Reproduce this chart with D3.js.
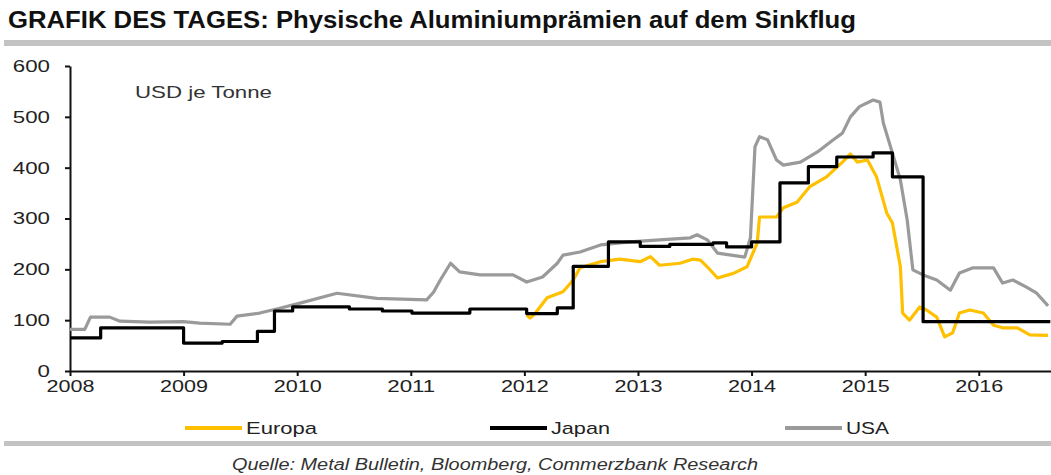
<!DOCTYPE html>
<html>
<head>
<meta charset="utf-8">
<script src="https://cdn.jsdelivr.net/npm/d3@7"></script>
<style>
  body { margin: 0; background: #fff; }
  svg { display: block; font-family: "Liberation Sans", Arial, sans-serif; }
  .axis path, .axis line { stroke: #111; }
  .axis text { font-size: 17px; fill: #222; }
</style>
</head>
<body>
<svg id="chart" width="1051" height="475"></svg>
<script>
// values, x in decimal years
var yearTicks = [2008, 2009, 2010, 2011, 2012, 2013, 2014, 2015, 2016];
var valueTicks = [0, 100, 200, 300, 400, 500, 600];

var japanYears = [2008.0, 2008.27, 2009.0, 2009.34, 2009.65, 2009.8, 2009.96, 2010.46, 2010.75, 2011.01, 2011.52,
  2012.02, 2012.29, 2012.43, 2012.74, 2013.02, 2013.28, 2013.66, 2013.78, 2014.0, 2014.25, 2014.5, 2014.75,
  2015.07, 2015.24, 2015.51, 2016.63];
var japanVals = [65, 85, 55, 58, 78, 118, 126, 122, 118, 114, 122,
  113, 124, 206, 254, 245, 249, 252, 244, 254, 370, 402, 421,
  429, 382, 97, 97];

var europaYears = [2012.02, 2012.05, 2012.09, 2012.2, 2012.34, 2012.43, 2012.49, 2012.67, 2012.84, 2013.02, 2013.11,
  2013.19, 2013.37, 2013.48, 2013.55, 2013.61, 2013.7, 2013.84, 2013.96, 2014.05, 2014.07, 2014.22, 2014.28,
  2014.4, 2014.51, 2014.66, 2014.8, 2014.87, 2014.93, 2015.02, 2015.1, 2015.19, 2015.24, 2015.31, 2015.33,
  2015.39, 2015.48, 2015.54, 2015.63, 2015.7, 2015.77, 2015.83, 2015.92, 2016.04, 2016.13, 2016.21, 2016.34,
  2016.45, 2016.61];
var europaVals = [110, 104, 112, 144, 156, 179, 203, 215, 220, 215, 225,
  208, 212, 220, 218, 205, 183, 192, 205, 252, 303, 303, 321,
  332, 362, 382, 411, 427, 411, 415, 382, 311, 291, 205, 114,
  100, 126, 120, 106, 67, 75, 114, 120, 114, 90, 85, 85,
  71, 70];

var usaYears = [2008.0, 2008.13, 2008.18, 2008.35, 2008.44, 2008.7, 2009.0, 2009.14, 2009.41, 2009.47, 2009.67,
  2009.82, 2010.0, 2010.35, 2010.7, 2011.14, 2011.2, 2011.26, 2011.35, 2011.43, 2011.61, 2011.9, 2012.02,
  2012.16, 2012.29, 2012.34, 2012.49, 2012.67, 2012.93, 2013.19, 2013.46, 2013.52, 2013.61, 2013.7, 2013.94,
  2013.99, 2014.03, 2014.07, 2014.14, 2014.22, 2014.28, 2014.43, 2014.58, 2014.72, 2014.8, 2014.87, 2014.95,
  2015.07, 2015.13, 2015.16, 2015.24, 2015.31, 2015.37, 2015.42, 2015.51, 2015.63, 2015.75, 2015.83, 2015.95,
  2016.13, 2016.21, 2016.3, 2016.42, 2016.51, 2016.61];
var usaVals = [82, 82, 106, 106, 98, 96, 97, 94, 92, 108, 114,
  122, 132, 153, 143, 140, 155, 179, 212, 195, 189, 189, 175,
  185, 212, 228, 234, 248, 254, 258, 262, 268, 258, 232, 224,
  262, 441, 461, 455, 415, 405, 411, 431, 455, 468, 500, 520,
  533, 529, 488, 429, 376, 297, 199, 189, 179, 159, 193, 203,
  203, 173, 179, 165, 153, 128];

var series = [
  { name: "Europa", years: europaYears, vals: europaVals, color: "#ffc000", curve: d3.curveLinear, w: 71 },
  { name: "Japan", years: japanYears, vals: japanVals, color: "#000000", curve: d3.curveStepAfter, w: 59 },
  { name: "USA", years: usaYears, vals: usaVals, color: "#9a9a9a", curve: d3.curveLinear, w: 43 }
];

var svg = d3.select("#chart");

// title + grey rules
svg.append("text")
  .attr("x", 8).attr("y", 28)
  .attr("font-size", 23).attr("font-weight", "bold").attr("fill", "#111")
  .attr("textLength", 848).attr("lengthAdjust", "spacingAndGlyphs")
  .text("GRAFIK DES TAGES: Physische Aluminiumprämien auf dem Sinkflug");
svg.append("rect").attr("x", 4).attr("y", 40).attr("width", 1047).attr("height", 6).attr("fill", "#c3c3c3");
svg.append("rect").attr("x", 4).attr("y", 441).attr("width", 1047).attr("height", 5).attr("fill", "#c3c3c3");

var x = d3.scaleLinear().domain([2008, 2016.636]).range([70, 1051]);
var y = d3.scaleLinear().domain([0, 600]).range([371, 66]);

var gx = svg.append("g").attr("class", "axis")
  .attr("transform", "translate(0,371)")
  .call(d3.axisBottom(x).tickValues(yearTicks).tickFormat(d3.format("d")).tickSize(5).tickSizeOuter(0).tickPadding(4));
gx.select(".domain").attr("stroke-width", 2);
gx.selectAll(".tick line").attr("stroke-width", 2);
gx.selectAll(".tick text").attr("textLength", 48).attr("lengthAdjust", "spacingAndGlyphs");

var gy = svg.append("g").attr("class", "axis")
  .attr("transform", "translate(70,0)")
  .call(d3.axisLeft(y).tickValues(valueTicks).tickSize(5).tickSizeOuter(0).tickPadding(15));
gy.select(".domain").attr("stroke-width", 2);
gy.selectAll(".tick line").attr("stroke-width", 2);
gy.selectAll(".tick text")
  .attr("textLength", function(d) { return String(d).length * 12.4; })
  .attr("lengthAdjust", "spacingAndGlyphs");

svg.append("text")
  .attr("x", 135).attr("y", 98)
  .attr("font-size", 17).attr("fill", "#333")
  .attr("textLength", 137).attr("lengthAdjust", "spacingAndGlyphs")
  .text("USD je Tonne");

// USA drawn first so it sits underneath, as in the reference
[series[2], series[0], series[1]].forEach(function(s) {
  var line = d3.line()
    .x(function(d, i) { return x(s.years[i]); })
    .y(function(d) { return y(d); })
    .curve(s.curve);
  svg.append("path")
    .datum(s.vals)
    .attr("fill", "none")
    .attr("stroke", s.color)
    .attr("stroke-width", 3.2)
    .attr("stroke-linejoin", "round")
    .attr("d", line);
});

// legend
var legendX = [185, 490, 785];
series.forEach(function(s, i) {
  var g = svg.append("g").attr("transform", "translate(" + legendX[i] + ",428)");
  g.append("line").attr("x1", 0).attr("x2", 57).attr("y1", 0).attr("y2", 0)
    .attr("stroke", s.color).attr("stroke-width", 4);
  g.append("text").attr("x", 61).attr("y", 6).attr("font-size", 17).attr("fill", "#222")
    .attr("textLength", s.w).attr("lengthAdjust", "spacingAndGlyphs")
    .text(s.name);
});

svg.append("text")
  .attr("x", 232).attr("y", 470)
  .attr("font-size", 16).attr("font-style", "italic").attr("fill", "#333")
  .attr("textLength", 526).attr("lengthAdjust", "spacingAndGlyphs")
  .text("Quelle: Metal Bulletin, Bloomberg, Commerzbank Research");
</script>
</body>
</html>
